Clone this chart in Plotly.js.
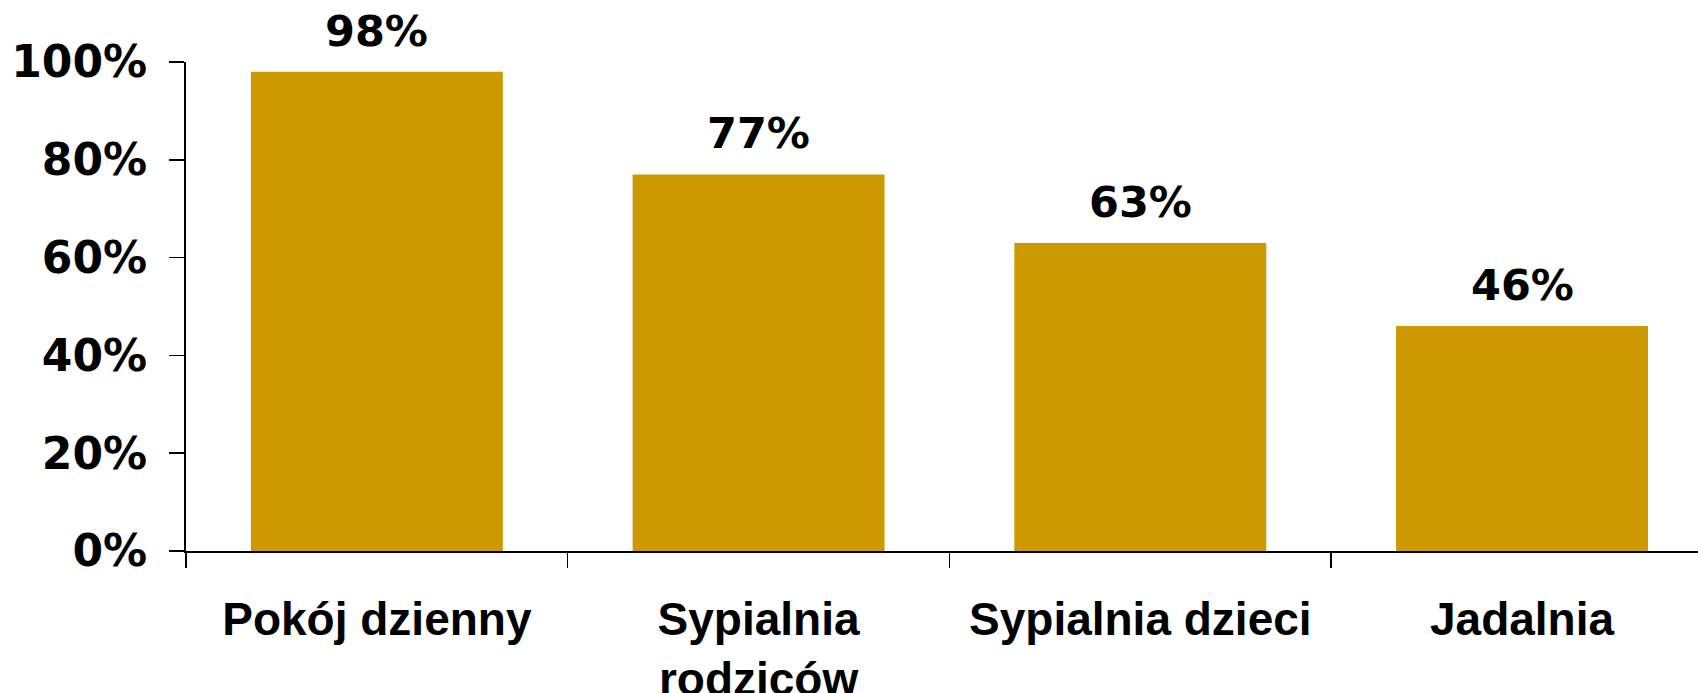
<!DOCTYPE html>
<html>
<head>
<meta charset="utf-8">
<script src="https://cdn.plot.ly/plotly-3.0.1.min.js"></script>
<style>
  html, body { margin: 0; padding: 0; background: #ffffff; overflow: hidden; }
  #chart { width: 1698px; height: 693px; }
</style>
</head>
<body>
<div id="chart"></div>
<script>
// Data
const categories = ['Pokój dzienny', 'Sypialnia rodziców', 'Sypialnia dzieci', 'Jadalnia'];
const tickLabels = ['Pokój dzienny', 'Sypialnia<br>rodziców', 'Sypialnia dzieci', 'Jadalnia'];
const values = [98, 77, 63, 46];
const yTickVals = [0, 20, 40, 60, 80, 100];
const yTickText = ['0%', '20%', '40%', '60%', '80%', '100%'];

const barColor = '#CC9900';
const numFont = { family: 'DejaVu Sans, Verdana, sans-serif', size: 43, color: '#000000', weight: 'bold' };
const yTickFont = { family: 'DejaVu Sans, Verdana, sans-serif', size: 44, color: '#000000', weight: 'bold' };
const catFont = { family: 'Liberation Sans, Arial, sans-serif', size: 46, color: '#000000', weight: 'bold' };

const trace = {
  type: 'bar',
  x: categories,
  y: values,
  marker: { color: barColor, line: { width: 0 } },
  hoverinfo: 'skip'
};

const annotations = categories.map((c, i) => ({
  x: c,
  y: values[i],
  xref: 'x',
  yref: 'y',
  text: values[i] + '%',
  showarrow: false,
  yanchor: 'bottom',
  xanchor: 'center',
  yshift: 14,
  font: numFont
}));

const layout = {
  width: 1698,
  height: 693,
  margin: { l: 186, r: 0, t: 62, b: 142, pad: 0 },
  paper_bgcolor: '#ffffff',
  plot_bgcolor: '#ffffff',
  showlegend: false,
  bargap: 0.34,
  xaxis: {
    type: 'category',
    range: [-0.5, 3.461],
    tickmode: 'array',
    tickvals: categories,
    ticktext: tickLabels,
    tickson: 'boundaries',
    ticks: 'outside',
    ticklen: 15,
    tickwidth: 1.5,
    tickcolor: '#000000',
    showline: true,
    linecolor: '#000000',
    linewidth: 2,
    showgrid: false,
    zeroline: false,
    tickfont: catFont,
    ticklabelstandoff: 27,
    fixedrange: true
  },
  yaxis: {
    range: [0, 100],
    tickmode: 'array',
    tickvals: yTickVals,
    ticktext: yTickText,
    ticks: 'outside',
    ticklen: 15,
    tickwidth: 1.5,
    tickcolor: '#000000',
    showline: true,
    linecolor: '#000000',
    linewidth: 2,
    showgrid: false,
    zeroline: false,
    tickfont: yTickFont,
    ticklabelstandoff: 13,
    fixedrange: true
  },
  annotations: annotations
};

Plotly.newPlot('chart', [trace], layout, { displayModeBar: false, staticPlot: true });
</script>
</body>
</html>
